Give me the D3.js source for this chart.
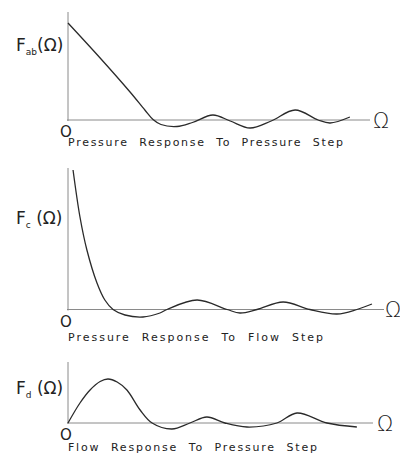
<!DOCTYPE html>
<html>
<head>
<meta charset="utf-8">
<script src="https://cdn.jsdelivr.net/npm/d3@7"></script>
<style>
  body { margin: 0; background: #fff; }
  svg { display: block; }
  text { font-family: "DejaVu Sans", sans-serif; fill: #222; white-space: pre; }
</style>
</head>
<body>
<div id="chart"></div>
<script>
// frequency (Omega) and response values, arbitrary units
const omegaAb = [0, 1.02, 1.97, 2.44, 2.70, 2.95, 3.46, 3.95, 4.60, 5.15, 5.78, 6.45, 7.21, 7.94, 8.32, 8.95]
const fAb     = [9.7, 6.2, 2.8, 1.0, 0.05, -0.45, -0.65, -0.25, 0.5, -0.1, -0.8, -0.1, 1.0, 0, -0.3, 0.3]

const omegaC = [0.16, 0.38, 0.60, 0.92, 1.17, 1.43, 1.81, 2.38, 2.92, 3.14, 4.10, 5.05, 5.46, 6.0, 6.83, 7.68, 8.54, 9.17, 9.65]
const fC     = [13.95, 9.25, 5.95, 2.65, 0.95, 0, -0.55, -0.75, -0.35, 0, 0.95, 0, -0.35, 0, 0.75, 0, -0.45, 0, 0.55]

const omegaD = [0, 0.38, 0.70, 1.02, 1.27, 1.56, 1.87, 2.29, 2.67, 3.30, 3.87, 4.41, 4.98, 5.68, 6.63, 7.27, 8.22, 9.17]
const fD     = [0, 2.0, 3.3, 4.15, 4.4, 4.1, 3.3, 1.3, 0, -0.6, 0, 0.6, 0, -0.4, 0, 1.0, 0, -0.4]

const subscripts = ['ab', 'c', 'd']
const titles = [
  'Pressure  Response  To  Pressure  Step',
  'Pressure  Response  To  Flow  Step',
  'Flow  Response  To  Pressure  Step'
]

const width = 400
const height = 454
const d3 = window.d3

const svg = d3.select('#chart').append('svg')
  .attr('width', width)
  .attr('height', height)

// layout of the three stacked panels
const panels = [
  { om: omegaAb, f: fAb, top: 12, base: 120, yMax: 10.8, axisEnd: 370, omX: 381, labelY: 45, titleY: 142, titleW: 275 },
  { om: omegaC, f: fC, top: 168, base: 309.5, yMax: 14, axisEnd: 384, omX: 393, labelY: 218, titleY: 337, titleW: 255 },
  { om: omegaD, f: fD, top: 362, base: 423, yMax: 6, axisEnd: 373, omX: 385, labelY: 388, titleY: 447, titleW: 249 }
]

const x = d3.scaleLinear().domain([0, 10]).range([68, 383])

panels.forEach(function(p, i) {
  const y = d3.scaleLinear().domain([0, p.yMax]).range([p.base, p.base - p.yMax * 10])
  const g = svg.append('g')

  // axes
  g.append('line')
    .attr('x1', x(0)).attr('x2', x(0))
    .attr('y1', p.top).attr('y2', p.base + 1)
    .attr('stroke', '#8a8a8a').attr('stroke-width', 1)
  g.append('line')
    .attr('x1', x(0) - 1).attr('x2', p.axisEnd)
    .attr('y1', p.base).attr('y2', p.base)
    .attr('stroke', '#8a8a8a').attr('stroke-width', 1)

  const line = d3.line()
    .x(function(d) { return x(d[0]) })
    .y(function(d) { return y(d[1]) })
    .curve(d3.curveCatmullRom.alpha(0.5))

  g.append('path')
    .datum(d3.zip(p.om, p.f))
    .attr('d', line)
    .attr('fill', 'none')
    .attr('stroke', '#2a2a2a')
    .attr('stroke-width', 1.3)

  // Omega at the end of the x axis
  g.append('text')
    .attr('x', p.omX).attr('y', p.base)
    .attr('dy', '0.36em')
    .attr('text-anchor', 'middle')
    .attr('font-size', 21)
    .attr('font-weight', 300)
    .text('\u03A9')

  // origin
  g.append('text')
    .attr('x', x(0) - 2).attr('y', p.base + 12)
    .attr('dy', '0.36em')
    .attr('text-anchor', 'middle')
    .attr('font-size', 15)
    .text('O')

  // y label F_sub(Omega)
  const lab = g.append('text')
    .attr('x', 16).attr('y', p.labelY)
    .attr('dy', '0.36em')
    .attr('font-size', 17)
  lab.append('tspan').text('F')
  lab.append('tspan').attr('font-size', 9).attr('dy', 4).text(subscripts[i])
  lab.append('tspan').attr('dy', -4).attr('font-size', 17).text(i === 0 ? '(\u03A9)' : ' (\u03A9)')

  // caption
  g.append('text')
    .attr('x', 68).attr('y', p.titleY)
    .attr('dy', '0.36em')
    .attr('font-size', 11)
    .attr('textLength', p.titleW)
    .attr('lengthAdjust', 'spacing')
    .text(titles[i])
})
</script>
</body>
</html>
